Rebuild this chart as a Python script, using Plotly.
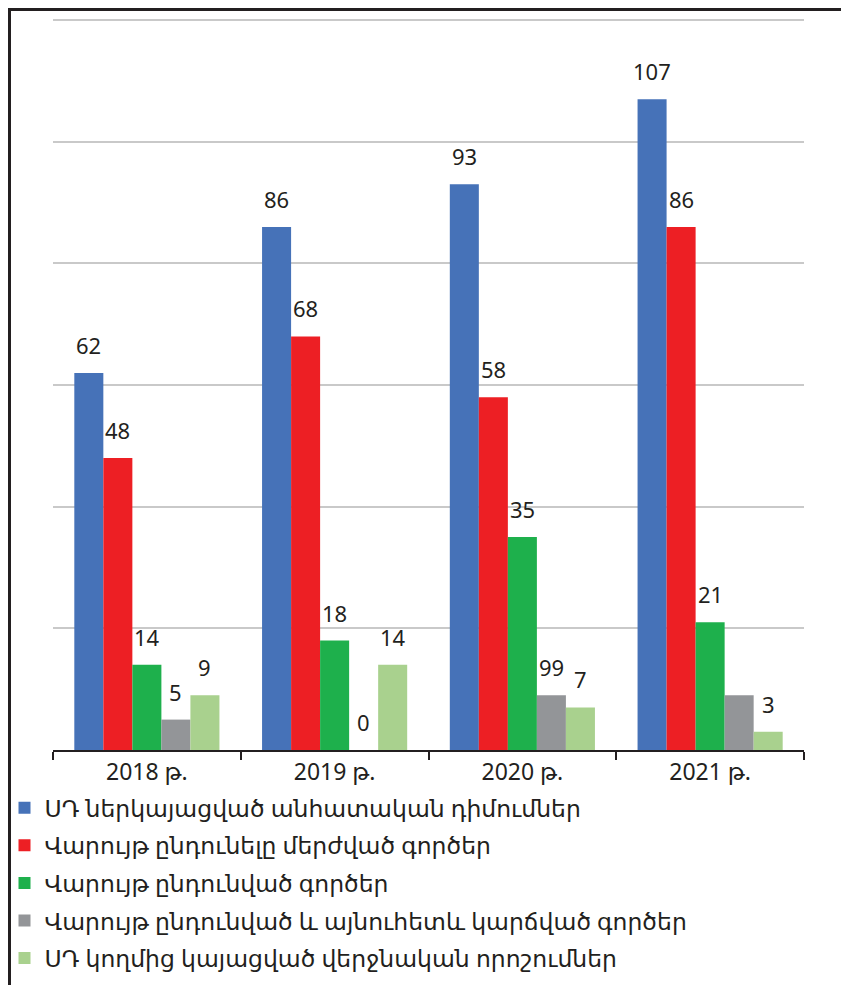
import plotly.graph_objects as go

categories = ["2018 թ.", "2019 թ.", "2020 թ.", "2021 թ."]
series_names = [
    "ՍԴ ներկայացված անհատական դիմումներ",
    "Վարույթ ընդունելը մերժված գործեր",
    "Վարույթ ընդունված գործեր",
    "Վարույթ ընդունված և այնուհետև կարճված գործեր",
    "ՍԴ կողմից կայացված վերջնական որոշումներ",
]
s_blue = [62, 86, 93, 107]
s_red = [48, 68, 58, 86]
s_green = [14, 18, 35, 21]
s_gray = [5, 0, 9, 9]
s_lgreen = [9, 14, 7, 3]
gray_labels = ["5", "0", "99", ""]

colors = ["#4672b8", "#ed1f24", "#1eb04c", "#939598", "#a9d18e"]
all_values = [s_blue, s_red, s_green, s_gray, s_lgreen]
all_labels = [[str(v) for v in s_blue], [str(v) for v in s_red],
              [str(v) for v in s_green], gray_labels, [str(v) for v in s_lgreen]]

FONT = "Noto Sans, DejaVu Sans, sans-serif"
TXT = "#231f20"

fig = go.Figure()
for i, (name, vals, col) in enumerate(zip(series_names, all_values, colors)):
    fig.add_trace(go.Bar(x=categories, y=vals, name=name, marker_color=col,
                         marker_line_width=0, legendgroup=str(i)))

OFF = 8  # page offset of the figure inside the window
W, H = 849, 985
YMAX = 121
unit_px = (750 - 20) / 120
L, R = 53 - OFF, W - 804 + OFF
T, B = round(750 - YMAX * unit_px) - OFF, H - 750 + OFF
PW, PH = W - L - R, H - T - B


def px(xw):
    return (xw - OFF - L) / PW


def py(yw):
    return (H - B - (yw - OFF)) / PH


cat_w = PW / len(categories)
bargap = 0.227
bar_w = cat_w * (1 - bargap) / len(series_names)
annots = []
for i, (vals, labs) in enumerate(zip(all_values, all_labels)):
    for c, v, t in zip(categories, vals, labs):
        if t == "":
            continue
        annots.append(dict(x=c, y=v, xref="x", yref="y", text=t, showarrow=False,
                           xshift=(i - 2) * bar_w, yshift=11, yanchor="bottom",
                           font=dict(family=FONT, size=22, color=TXT)))

fig.update_layout(
    width=W, height=H,
    margin=dict(l=L, r=R, t=T, b=B, autoexpand=False),
    paper_bgcolor="white", plot_bgcolor="white",
    barmode="group", bargap=bargap, bargroupgap=0,
    font=dict(family=FONT, size=22, color=TXT),
    showlegend=True,
    legend=dict(orientation="v", x=px(4.5), xanchor="left",
                y=py(786), yanchor="top", bgcolor="rgba(0,0,0,0)",
                font=dict(family=FONT, size=23.5, color=TXT),
                traceorder="grouped", itemwidth=30, tracegroupgap=4),
    annotations=annots,
    shapes=[
        dict(type="line", xref="paper", yref="paper",
             x0=px(OFF + 1.5), x1=px(OFF + 1.5), y0=py(OFF), y1=py(1010),
             line=dict(color=TXT, width=3)),
        dict(type="line", xref="paper", yref="paper",
             x0=px(OFF), x1=px(870), y0=py(OFF + 1.5), y1=py(OFF + 1.5),
             line=dict(color=TXT, width=3)),
    ],
)
fig.update_yaxes(range=[0, YMAX], tick0=0, dtick=20, showticklabels=False,
                 showgrid=True, gridcolor="#c9c9c9", gridwidth=2,
                 zeroline=False, showline=False)
fig.update_xaxes(showline=True, linecolor=TXT, linewidth=2, ticks="outside",
                 tickson="boundaries", ticklen=8, tickwidth=2, tickcolor=TXT,
                 tickfont=dict(family=FONT, size=23, color=TXT))

fig.write_html("out.html")
